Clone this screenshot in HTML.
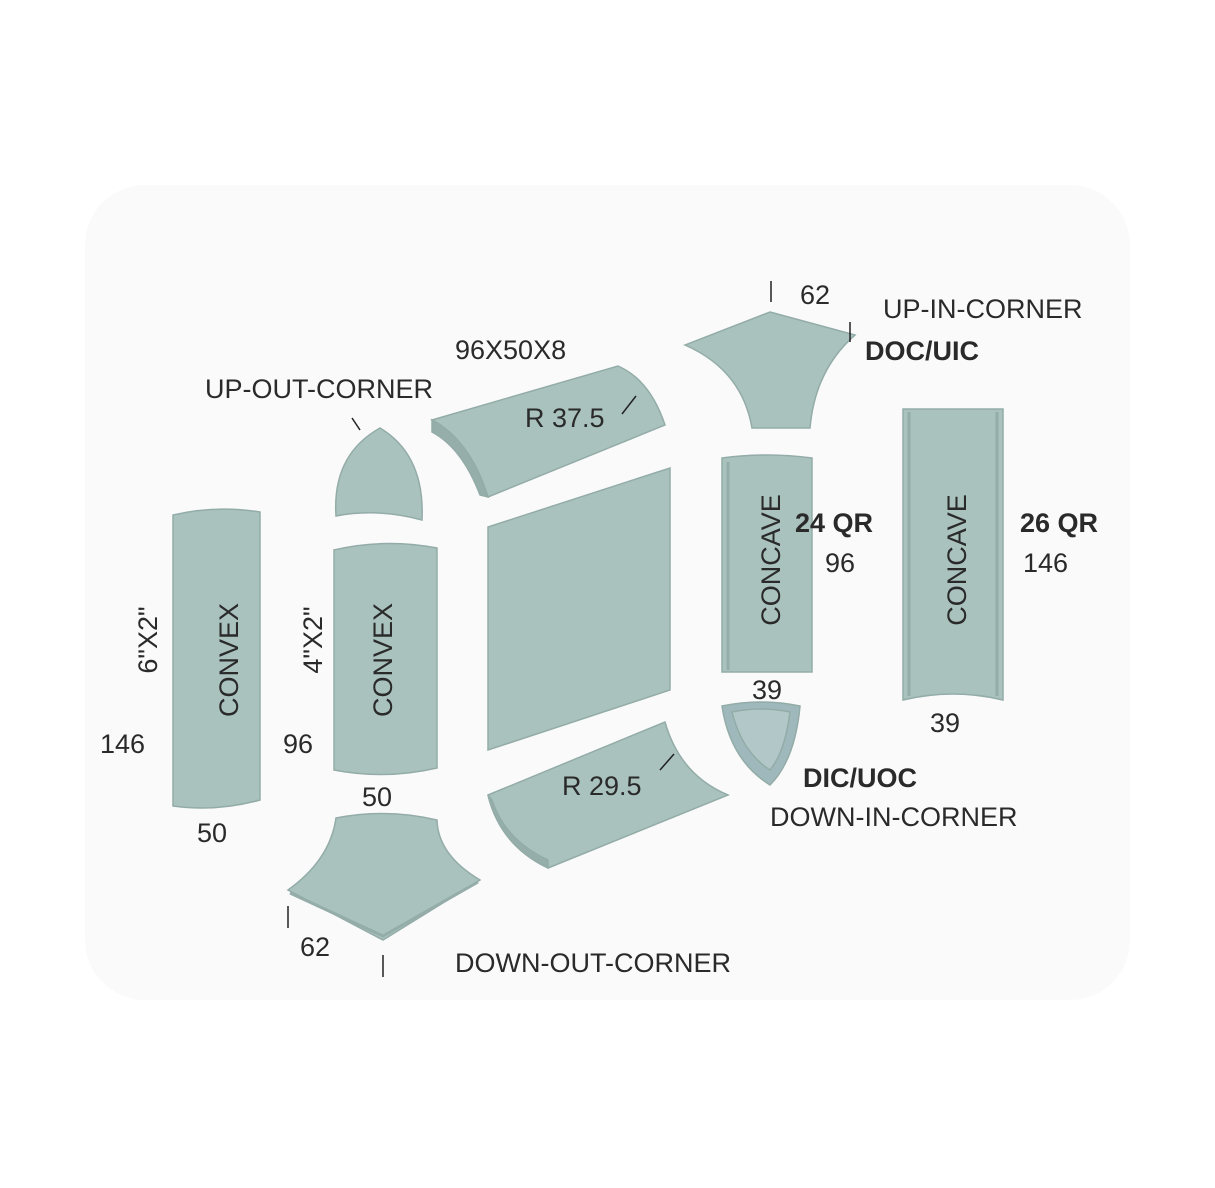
<!DOCTYPE html>
<html><head><meta charset="utf-8"><style>
html,body{margin:0;padding:0;background:#fff;}
svg{display:block;}
text{font-family:"Liberation Sans",sans-serif;fill:#2a2a2a;}
</style></head><body>
<svg width="1215" height="1188" viewBox="0 0 1215 1188" xmlns="http://www.w3.org/2000/svg">
<rect x="85" y="185" width="1045" height="815" rx="60" fill="#fafafa"/>
<g fill="#a9c2be" stroke="#93aca8" stroke-width="1.5">
<path d="M173,515 Q216,505 260,512 L260,800 Q216,812 173,806 Z"/>
<path d="M334,550 Q385,538 437,548 L437,768 Q385,780 334,770 Z"/>
<path d="M380,428 Q425,455 422,520 Q378,508 336,516 Q332,455 380,428 Z"/>
<path d="M432,420 L618,366 Q650,380 665,425 L488,497 Q470,440 432,420 Z"/>
<path d="M432,420 Q470,440 488,497 L480,495 Q462,448 432,432 Z" fill="#95aeaa"/>
<path d="M488,527 L670,468 L670,690 L488,750 Z"/>
<path d="M488,795 L665,722 Q680,775 728,795 L548,868 Q500,845 488,795 Z"/>
<path d="M488,795 Q500,845 548,868 L548,860 Q505,840 492,800 Z" fill="#95aeaa"/>
<path d="M770,312 L855,335 Q815,370 810,428 L752,428 Q742,370 685,345 Z"/>
<path d="M722,458 Q767,452 812,458 L812,672 L722,672 Z"/>
<path d="M903,409 L1003,409 L1003,700 Q953,688 903,700 Z"/>
<path d="M722,706 Q761,698 800,706 Q795,760 770,785 Q730,760 722,706 Z" fill="#9fb8bb"/>
<path d="M732,712 Q761,706 790,712 Q785,752 770,770 Q742,752 732,712 Z" fill="#b2c8c8"/>
<path d="M336,818 Q386,808 437,820 Q438,855 480,880 L383,940 L288,890 Q330,860 336,818 Z"/>
</g>
<g stroke="#94ada9" stroke-width="3" fill="none">
<path d="M909,412 L909,696"/><path d="M997,412 L997,696"/>
<path d="M728,462 L728,670"/>
<path d="M290,893 L383,936 L478,882"/>
</g>
<g stroke="#222" stroke-width="1.5">
<line x1="771" y1="281" x2="771" y2="302"/>
<line x1="850" y1="322" x2="850" y2="342"/>
<line x1="288" y1="906" x2="288" y2="928"/>
<line x1="383" y1="955" x2="383" y2="977"/>
<line x1="352" y1="418" x2="360" y2="430"/>
<line x1="622" y1="414" x2="636" y2="396"/>
<line x1="660" y1="770" x2="674" y2="754"/>
</g>
<g font-size="27">
<text x="800" y="304">62</text>
<text x="883" y="318">UP-IN-CORNER</text>
<text x="455" y="359">96X50X8</text>
<text x="205" y="398">UP-OUT-CORNER</text>
<text x="525" y="427">R 37.5</text>
<text x="825" y="572">96</text>
<text x="1023" y="572">146</text>
<text x="752" y="699">39</text>
<text x="930" y="732">39</text>
<text x="100" y="753">146</text>
<text x="283" y="753">96</text>
<text x="362" y="806">50</text>
<text x="197" y="842">50</text>
<text x="562" y="795">R 29.5</text>
<text x="770" y="826">DOWN-IN-CORNER</text>
<text x="300" y="956">62</text>
<text x="455" y="972">DOWN-OUT-CORNER</text>
</g>
<g font-size="27" font-weight="bold">
<text x="865" y="360">DOC/UIC</text>
<text x="795" y="532">24 QR</text>
<text x="1020" y="532">26 QR</text>
<text x="803" y="787">DIC/UOC</text>
</g>
<g font-size="27">
<text transform="translate(238,660) rotate(-90)" text-anchor="middle">CONVEX</text>
<text transform="translate(392,660) rotate(-90)" text-anchor="middle">CONVEX</text>
<text transform="translate(157,640) rotate(-90)" text-anchor="middle">6"X2"</text>
<text transform="translate(322,640) rotate(-90)" text-anchor="middle">4"X2"</text>
<text transform="translate(780,560) rotate(-90)" text-anchor="middle">CONCAVE</text>
<text transform="translate(966,560) rotate(-90)" text-anchor="middle">CONCAVE</text>
</g>
</svg>
</body></html>
